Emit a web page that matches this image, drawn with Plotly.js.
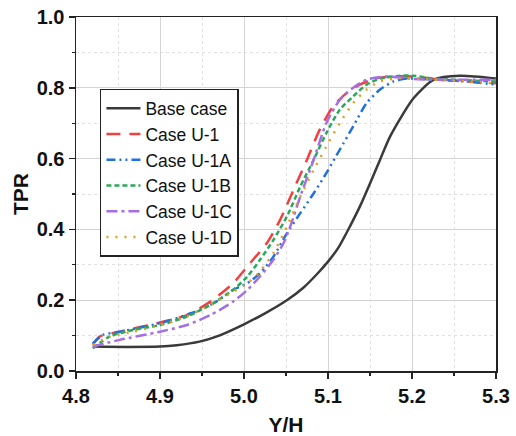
<!DOCTYPE html>
<html>
<head>
<meta charset="utf-8">
<script src="https://cdn.plot.ly/plotly-3.0.1.min.js"></script>
<style>html,body{margin:0;padding:0;background:#fff;}#chart{width:516px;height:436px;}</style>
</head>
<body>
<div id="chart"></div>
<script>
const seriesNames = ["Base case", "Case U-1", "Case U-1A", "Case U-1B", "Case U-1C", "Case U-1D"];

const baseX = [4.82, 4.86, 4.90, 4.92, 4.947, 4.967, 5.0, 5.025, 5.051, 5.071, 5.087, 5.10, 5.112, 5.126, 5.138, 5.15, 5.162, 5.174, 5.202, 5.226, 5.257, 5.30];
const baseY = [0.069, 0.068, 0.069, 0.073, 0.083, 0.097, 0.132, 0.163, 0.200, 0.236, 0.274, 0.309, 0.347, 0.408, 0.465, 0.530, 0.597, 0.663, 0.771, 0.823, 0.834, 0.826];

const u1X = [4.82, 4.828, 4.852, 4.90, 4.932, 4.96, 4.987, 5.007, 5.027, 5.043, 5.059, 5.075, 5.09, 5.106, 5.122, 5.138, 5.158, 5.178, 5.202, 5.226, 5.265, 5.30];
const u1Y = [0.074, 0.097, 0.111, 0.137, 0.158, 0.196, 0.248, 0.304, 0.361, 0.427, 0.512, 0.597, 0.681, 0.747, 0.785, 0.809, 0.827, 0.832, 0.832, 0.825, 0.818, 0.813];

const u1aX = [4.82, 4.832, 4.852, 4.90, 4.947, 4.967, 4.987, 5.004, 5.019, 5.035, 5.051, 5.067, 5.083, 5.098, 5.114, 5.13, 5.146, 5.162, 5.178, 5.194, 5.226, 5.265, 5.30];
const u1aY = [0.078, 0.102, 0.111, 0.135, 0.172, 0.196, 0.229, 0.248, 0.276, 0.323, 0.389, 0.446, 0.502, 0.559, 0.625, 0.691, 0.757, 0.795, 0.818, 0.826, 0.823, 0.818, 0.809];

const u1bX = [4.82, 4.84, 4.868, 4.90, 4.932, 4.96, 4.987, 5.004, 5.019, 5.035, 5.051, 5.067, 5.083, 5.098, 5.114, 5.13, 5.146, 5.162, 5.186, 5.202, 5.226, 5.30];
const u1bY = [0.064, 0.097, 0.116, 0.130, 0.154, 0.187, 0.229, 0.267, 0.314, 0.370, 0.436, 0.521, 0.597, 0.672, 0.738, 0.776, 0.809, 0.826, 0.834, 0.834, 0.826, 0.818];

const u1cX = [4.82, 4.852, 4.90, 4.932, 4.96, 4.987, 5.004, 5.019, 5.035, 5.047, 5.055, 5.067, 5.083, 5.098, 5.114, 5.13, 5.146, 5.17, 5.202, 5.226, 5.30];
const u1cY = [0.069, 0.088, 0.111, 0.130, 0.158, 0.196, 0.229, 0.267, 0.314, 0.361, 0.408, 0.493, 0.597, 0.700, 0.766, 0.800, 0.823, 0.832, 0.825, 0.823, 0.823];

const u1dX = [4.82, 4.84, 4.868, 4.90, 4.932, 4.96, 4.987, 5.004, 5.019, 5.035, 5.051, 5.067, 5.083, 5.098, 5.114, 5.13, 5.146, 5.162, 5.186, 5.226, 5.30];
const u1dY = [0.074, 0.097, 0.111, 0.130, 0.154, 0.187, 0.224, 0.248, 0.281, 0.333, 0.408, 0.493, 0.568, 0.634, 0.700, 0.757, 0.795, 0.818, 0.827, 0.823, 0.813];

const xTickVals = [4.8, 4.9, 5.0, 5.1, 5.2, 5.3];
const yTickVals = [0.0, 0.2, 0.4, 0.6, 0.8, 1.0];

const xs = [baseX, u1X, u1aX, u1bX, u1cX, u1dX];
const ys = [baseY, u1Y, u1aY, u1bY, u1cY, u1dY];
const colors = ["#3a3a3a", "#f24040", "#2070e0", "#2aa85a", "#a66ee6", "#d9a21a"];
const dashes = ["solid", "14px,9px", "9px,4px,2px,4px,2px,4px", "5px,3px", "11px,4px,3px,4px", "2px,7px"];
const widths = [2.5, 2.5, 2.5, 2.5, 2.5, 2.5];

const traces = seriesNames.map((n, i) => ({
  x: xs[i], y: ys[i], name: n, type: "scatter", mode: "lines",
  line: {color: colors[i], dash: dashes[i], width: widths[i], shape: "spline", smoothing: 0.7}
}));

const FONT = "Liberation Sans, Arial, sans-serif";

const layout = {
  width: 516, height: 436,
  margin: {l: 76, r: 20, t: 17, b: 65},
  paper_bgcolor: "#fff", plot_bgcolor: "#fff",
  font: {family: FONT, color: "#111"},
  showlegend: true,
  legend: {
    x: 0.057, y: 0.797, xanchor: "left", yanchor: "top",
    bgcolor: "#fff", bordercolor: "#222", borderwidth: 1.5,
    font: {size: 17.5, family: FONT, color: "#111"},
    itemwidth: 34, tracegroupgap: 0
  },
  xaxis: {
    range: [4.8, 5.3], tickvals: xTickVals, ticktext: xTickVals.map(v => v.toFixed(1)),
    showline: true, linecolor: "#222", linewidth: 1.5, mirror: true,
    ticks: "outside", ticklen: 6, tickwidth: 1.5, tickcolor: "#222",
    showgrid: true, gridcolor: "#d4d4d4", gridwidth: 1,
    zeroline: false,
    tickfont: {size: 20, family: FONT, weight: "bold", color: "#111"},
    minor: {dtick: 0.05, tick0: 4.8, showgrid: true, gridcolor: "#e0e0e0", griddash: "dot", gridwidth: 1, ticks: "outside", ticklen: 3, tickcolor: "#222", tickwidth: 1.2},
    title: {text: "<b>Y/H</b>", font: {size: 21, family: FONT, color: "#111"}, standoff: 16}
  },
  yaxis: {
    range: [0, 1.0], tickvals: yTickVals, ticktext: yTickVals.map(v => v.toFixed(1)),
    showline: true, linecolor: "#222", linewidth: 1.5, mirror: true,
    ticks: "outside", ticklen: 6, tickwidth: 1.5, tickcolor: "#222",
    showgrid: true, gridcolor: "#d4d4d4", gridwidth: 1,
    zeroline: false,
    tickfont: {size: 20, family: FONT, weight: "bold", color: "#111"},
    minor: {dtick: 0.1, tick0: 0, showgrid: true, gridcolor: "#e0e0e0", griddash: "dot", gridwidth: 1, ticks: "outside", ticklen: 3, tickcolor: "#222", tickwidth: 1.2},
    title: {text: "<b>TPR</b>", font: {size: 21, family: FONT, color: "#111"}, standoff: 2}
  }
};

Plotly.newPlot("chart", traces, layout, {staticPlot: true, displayModeBar: false});
</script>
</body>
</html>
